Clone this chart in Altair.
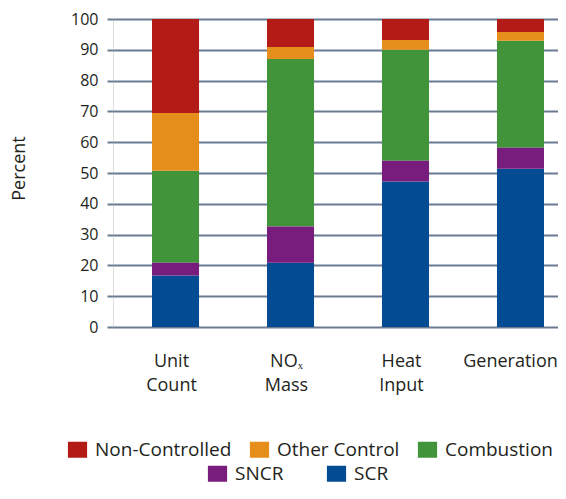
import altair as alt
import pandas as pd

# ---- data ----
measures = ["Unit Count", "NOₓ Mass", "Heat Input", "Generation"]
scr = [16.7, 20.9, 47.2, 51.4]
sncr = [4.2, 11.7, 6.8, 6.8]
combustion = [29.8, 54.4, 36.0, 34.7]
other_control = [18.8, 3.9, 3.2, 2.9]
non_controlled = [30.5, 9.1, 6.8, 4.2]

stack_order = ["SCR", "SNCR", "Combustion", "Other Control", "Non-Controlled"]
legend_row1 = ["Non-Controlled", "Other Control", "Combustion"]
legend_row2 = ["SNCR", "SCR"]
colors = {
    "Non-Controlled": "#b31b17",
    "Other Control": "#e68e1b",
    "Combustion": "#42943b",
    "SNCR": "#781d7d",
    "SCR": "#034b92",
}
y_ticks = list(range(0, 101, 10))

series = {
    "SCR": scr,
    "SNCR": sncr,
    "Combustion": combustion,
    "Other Control": other_control,
    "Non-Controlled": non_controlled,
}
rows = []
for i, cat in enumerate(stack_order):
    for m, v in zip(measures, series[cat]):
        rows.append({"measure": m, "category": cat, "value": v, "order": i})
df = pd.DataFrame(rows)

FONT = "Open Sans"
TEXT = "#231f20"
GRID = "#687b91"
RECT = "M-1.2,-1H1.2V1H-1.2Z"

base = alt.Chart(df).transform_stack(
    stack="value",
    groupby=["measure"],
    as_=["y0", "y1"],
    sort=[alt.SortField("order", order="ascending")],
)

x_enc = alt.X(
    "measure:N",
    sort=measures,
    title=None,
    scale=alt.Scale(paddingInner=0.591, paddingOuter=0.2304, align=0.736),
    axis=alt.Axis(
        labelAngle=0,
        labelExpr="split(datum.label, ' ')",
        labelFontSize=18,
        labelLineHeight=24,
        labelPadding=25,
        labelOffset=alt.condition("datum.value == 'Generation'", alt.value(-10), alt.value(-4)),
        ticks=False,
        domain=False,
        labelColor=TEXT,
        labelFont=FONT,
    ),
)
y_enc = alt.Y(
    "y1:Q",
    title="Percent",
    scale=alt.Scale(domain=[0, 100], nice=False),
    axis=alt.Axis(
        values=y_ticks,
        grid=True,
        gridColor=GRID,
        gridWidth=2,
        gridOpacity=1,
        tickColor=GRID,
        tickWidth=2,
        tickSize=6,
        domain=False,
        labelFontSize=16,
        labelPadding=9,
        labelColor=TEXT,
        labelFont=FONT,
        titleFont=FONT,
        titleFontSize=18,
        titleFontWeight="normal",
        titleColor=TEXT,
        titleAngle=-90,
        titleBaseline="middle",
        titleX=-94,
        titleY=149,
    ),
)

legend_common = dict(
    title=None,
    orient="none",
    direction="horizontal",
    symbolType=RECT,
    symbolSize=256,
    symbolStrokeWidth=0,
    symbolOpacity=1,
    labelFontSize=19,
    labelFont=FONT,
    labelColor=TEXT,
    labelOffset=8,
)

layer1 = base.transform_filter(
    alt.FieldOneOfPredicate(field="category", oneOf=legend_row1)
).mark_bar().encode(
    x=x_enc,
    y=y_enc,
    y2="y0:Q",
    color=alt.Color(
        "category:N",
        scale=alt.Scale(domain=legend_row1, range=[colors[c] for c in legend_row1]),
        legend=alt.Legend(legendX=-45, legendY=421, columns=3, columnPadding=17, **legend_common),
    ),
)

layer2 = base.transform_filter(
    alt.FieldOneOfPredicate(field="category", oneOf=legend_row2)
).mark_bar().encode(
    x=x_enc,
    y=y_enc,
    y2="y0:Q",
    fill=alt.Fill(
        "category:N",
        scale=alt.Scale(domain=legend_row2, range=[colors[c] for c in legend_row2]),
        legend=alt.Legend(legendX=95, legendY=445, columns=2, columnPadding=42, **legend_common),
    ),
)

chart = (
    alt.layer(layer1, layer2)
    .resolve_scale(color="independent", fill="independent")
    .properties(
        width=445,
        height=308,
        autosize=alt.AutoSizeParams(type="none"),
        padding={"left": 105, "top": 11, "right": 0, "bottom": 159},
    )
    .configure_view(fill="#dde1ee", strokeWidth=0)
    .configure(background="white")
)

chart.save("out.html", embed_options={"renderer": "svg", "actions": False})
